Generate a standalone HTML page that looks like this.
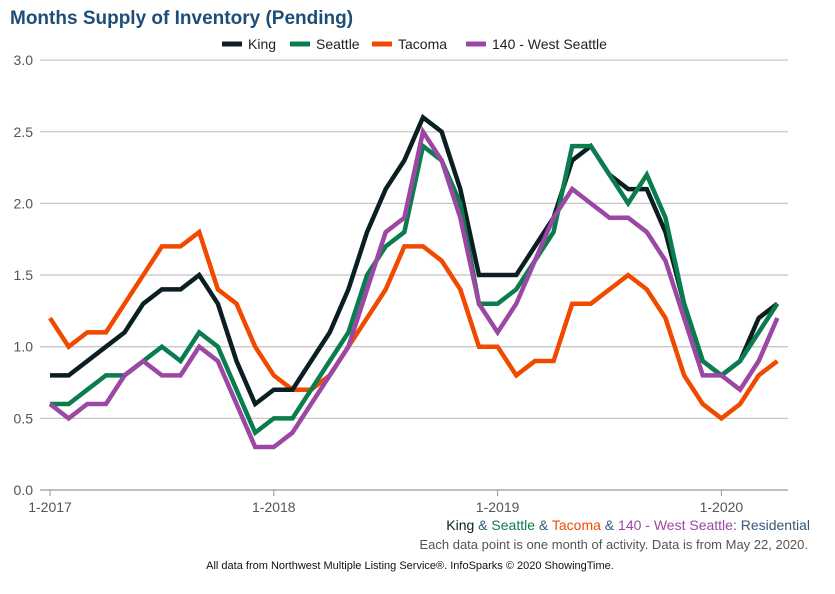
<!DOCTYPE html>
<html><head><meta charset="utf-8"><style>
body{margin:0;background:#fff;font-family:"Liberation Sans",Arial,sans-serif;}
svg text{font-family:"Liberation Sans",Arial,sans-serif;}
</style></head><body>
<svg id="chart" width="835" height="589">
<text x="10" y="24" font-size="19" font-weight="bold" fill="#1d4e7a">Months Supply of Inventory (Pending)</text>
<g id="grid"></g><g id="series"></g><g id="legend"></g>
<g>
<text x="810" y="530" font-size="14" text-anchor="end"><tspan fill="#0b1f22">King</tspan><tspan fill="#36597a"> &amp; </tspan><tspan fill="#0a7d4e">Seattle</tspan><tspan fill="#36597a"> &amp; </tspan><tspan fill="#f04a00">Tacoma</tspan><tspan fill="#36597a"> &amp; </tspan><tspan fill="#9a48a3">140 - West Seattle</tspan><tspan fill="#36597a">: Residential</tspan></text>
<text x="808" y="549" font-size="13" text-anchor="end" fill="#555">Each data point is one month of activity. Data is from May 22, 2020.</text>
<text x="410" y="569" font-size="11" text-anchor="middle" fill="#111">All data from Northwest Multiple Listing Service®. InfoSparks © 2020 ShowingTime.</text>
</g>
</svg>
<script>
const yTicks=[0,0.5,1.0,1.5,2.0,2.5,3.0];
const xLabels=["1-2017","1-2018","1-2019","1-2020"];
const xLabelIdx=[0,12,24,36];
const seriesNames=["King","Seattle","Tacoma","140 - West Seattle"];
const seriesColors=["#0b1f22","#0a7d4e","#f04a00","#9a48a3"];
const king=[0.8,0.8,0.9,1.0,1.1,1.3,1.4,1.4,1.5,1.3,0.9,0.6,0.7,0.7,0.9,1.1,1.4,1.8,2.1,2.3,2.6,2.5,2.1,1.5,1.5,1.5,1.7,1.9,2.3,2.4,2.2,2.1,2.1,1.8,1.3,0.9,0.8,0.9,1.2,1.3];
const seattle=[0.6,0.6,0.7,0.8,0.8,0.9,1.0,0.9,1.1,1.0,0.7,0.4,0.5,0.5,0.7,0.9,1.1,1.5,1.7,1.8,2.4,2.3,2.0,1.3,1.3,1.4,1.6,1.8,2.4,2.4,2.2,2.0,2.2,1.9,1.3,0.9,0.8,0.9,1.1,1.3];
const tacoma=[1.2,1.0,1.1,1.1,1.3,1.5,1.7,1.7,1.8,1.4,1.3,1.0,0.8,0.7,0.7,0.8,1.0,1.2,1.4,1.7,1.7,1.6,1.4,1.0,1.0,0.8,0.9,0.9,1.3,1.3,1.4,1.5,1.4,1.2,0.8,0.6,0.5,0.6,0.8,0.9];
const westSeattle=[0.6,0.5,0.6,0.6,0.8,0.9,0.8,0.8,1.0,0.9,0.6,0.3,0.3,0.4,0.6,0.8,1.0,1.4,1.8,1.9,2.5,2.3,1.9,1.3,1.1,1.3,1.6,1.9,2.1,2.0,1.9,1.9,1.8,1.6,1.2,0.8,0.8,0.7,0.9,1.2];
const NS="http://www.w3.org/2000/svg";
const x=i=>50+i*18.65;
const y=v=>490-v*143.3;
function mk(tag,attrs,parent,txt){const e=document.createElementNS(NS,tag);for(const k in attrs)e.setAttribute(k,attrs[k]);if(txt!==undefined)e.textContent=txt;parent.appendChild(e);return e;}
const grid=document.getElementById('grid');
yTicks.forEach(t=>{
 const l=mk('line',{x1:40,x2:788,y1:y(t),y2:y(t),stroke:t===0?'#999':'#c8c8c8','stroke-width':1.3},grid);
 
 
 const tx=mk('text',{x:33,y:y(t)+5,'font-size':14,'text-anchor':'end',fill:'#555'},grid,t.toFixed(1));
 
 
});
xLabels.forEach((lab,k)=>{
 const xi=x(xLabelIdx[k]);
 const tk=mk('line',{x1:xi,x2:xi,y1:490,y2:496,stroke:'#999'},grid);
 
 
 const tx=mk('text',{x:xi,y:512,'font-size':14,'text-anchor':'middle',fill:'#555'},grid,lab);
 
 
});
const data=[king,seattle,tacoma,westSeattle];
const sg=document.getElementById('series');
[2,0,1,3].forEach(s=>{
 const p=mk('polyline',{points:data[s].map((v,i)=>x(i)+','+y(v)).join(' '),fill:'none',stroke:seriesColors[s],'stroke-width':4.5,'stroke-linejoin':'miter'},sg);
 
 
});
const lg=document.getElementById('legend');
const lx=[222,290,372,466];
seriesNames.forEach((n,s)=>{
 const g=mk('g',{},lg);
 
 
 mk('line',{x1:lx[s],x2:lx[s]+20,y1:44,y2:44,stroke:seriesColors[s],'stroke-width':5},g);
 mk('text',{x:lx[s]+26,y:49,'font-size':14,fill:'#222'},g,n);
});
</script>
</body></html>
